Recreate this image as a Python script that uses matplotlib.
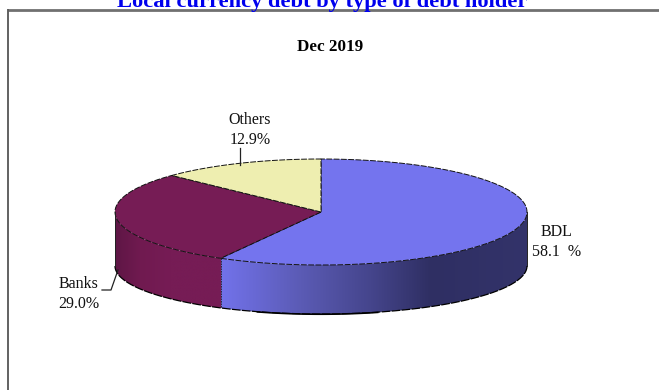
import numpy as np
import matplotlib
matplotlib.use('Agg')
import matplotlib.pyplot as plt
from matplotlib.patches import Polygon

names = ['BDL', 'Banks', 'Others']
values = [58.1, 29.0, 12.9]
labels = ['BDL\n58.1  %', 'Banks\n29.0%', 'Others\n12.9%']
label_pos = [(557, 242), (79, 294), (250, 130)]
top_colors = ['#7474EE', '#761C55', '#EEEEB0']

cx, cy = 321, 212
rx, ry = 206, 53
low_cy, low_ry = 266, 48


def edge(a, y0=cy, r=ry):
    a = np.radians(a)
    return cx + rx * np.cos(a), y0 - r * np.sin(a)


def ramp(x, stops):
    xp = [s[0] for s in stops]
    rgb = np.array([matplotlib.colors.to_rgb(s[1]) for s in stops])
    return np.column_stack([np.interp(x, xp, rgb[:, k]) for k in range(3)])


plt.rcParams['font.family'] = ['Liberation Serif', 'DejaVu Serif']

fig = plt.figure(figsize=(6.59, 3.90), dpi=100)
ax = fig.add_axes([0, 0, 1, 1])
ax.set_xlim(0, 659)
ax.set_ylim(390, 0)
ax.axis('off')

# frame: only the top and left sides are on the page
ax.plot([8, 659], [9.5, 9.5], color='#707070', lw=2.0, solid_capstyle='butt')
ax.plot([8, 8], [9, 390], color='#555555', lw=1.3, solid_capstyle='butt')

# slice angles, clockwise from twelve o'clock
ends = 90 - np.cumsum(values) * 3.6
starts = np.r_[90, ends[:-1]]

# side wall, shaded left to right; the banks part runs a little under the BDL part
side_stops = [
    [(221, '#7272EA'), (300, '#5B5BB5'), (370, '#45458C'), (430, '#2F2F63'), (527, '#33336A')],
    [(115, '#5E1645'), (140, '#701A50'), (170, '#761C55'), (225, '#761C55')],
]
wall_angles = [(-180, ends[0] + 1), (ends[0], 0)]
for (a0, a1), stops in zip(wall_angles, side_stops[::-1]):
    a = np.linspace(a0, a1, 150)
    x_top, y_top = edge(a)
    x_low, y_low = edge(a, low_cy, low_ry)
    pts = np.r_[np.column_stack([x_top, y_top]), np.column_stack([x_low, y_low])[::-1]]
    clip = Polygon(pts, closed=True, transform=ax.transData, fc='none', ec='none')
    ax.add_patch(clip)
    x_span = np.linspace(x_top.min(), x_top.max(), 300)
    shade = ramp(x_span, stops)[np.newaxis, :, :]
    im = ax.imshow(shade, extent=(x_top.min(), x_top.max(), y_low.max(), y_top.min()),
                   aspect='auto', interpolation='bilinear')
    im.set_clip_path(clip)
ax.set_xlim(0, 659)
ax.set_ylim(390, 0)

# outline of the wall
arc = np.linspace(-180, 0, 200)
xs, ys = edge(arc, low_cy, low_ry)
ax.plot(xs, ys, color='black', lw=0.9, ls=(0, (7, 1)))
mid = np.linspace(-108, -74, 60)
xs, ys = edge(mid, low_cy, low_ry)
ax.plot(xs, ys + 0.3, color='black', lw=1.1)
ax.plot([cx - rx, cx - rx], [cy, low_cy], color='#222222', lw=0.7)
ax.plot([cx + rx, cx + rx], [cy, low_cy], color='#222222', lw=0.7)
x, y = edge(ends[0])
_, y2 = edge(ends[0], low_cy, low_ry)
ax.plot([x, x], [y, y2], color='#222222', lw=0.6, ls=(0, (2, 1)))

# top face
for s, e, col in zip(starts, ends, top_colors):
    xs, ys = edge(np.linspace(s, e, 120))
    pts = np.column_stack([np.r_[cx, xs], np.r_[cy, ys]])
    ax.add_patch(Polygon(pts, closed=True, fc=col, ec='none'))
    ax.add_patch(Polygon(pts, closed=True, fc='none', ec='#111111', lw=0.7, ls=(0, (6, 1.5))))

# leader lines
ax.plot([240, 240], [148, 165], color='#222222', lw=0.9)
ax.plot([102, 111, 118], [290, 290, 270], color='#222222', lw=0.9)

for txt, (x, y) in zip(labels, label_pos):
    ax.text(x, y, txt, ha='center', va='center', fontsize=11.5, linespacing=1.32, color='#111111')

ax.text(330, 47, 'Dec 2019', ha='center', va='center', fontsize=12.3, fontweight='bold', color='black')
ax.text(322, 6.5, 'Local currency debt by type of debt holder', ha='center', va='baseline',
        fontsize=16.2, fontweight='bold', color='#0000EE')

fig.savefig('out.png', dpi=100)
